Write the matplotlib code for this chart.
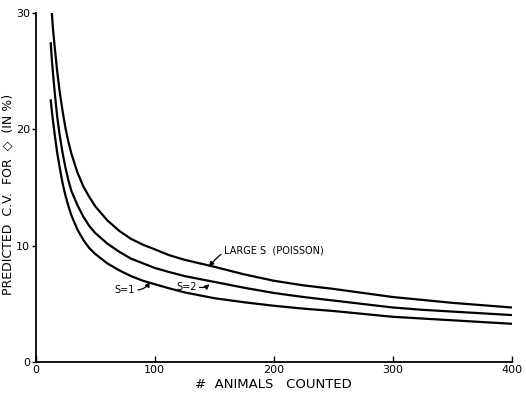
import numpy as np
import matplotlib
matplotlib.use('Agg')
import matplotlib.pyplot as plt

# values
n_large = [13.5, 14.5, 16, 18, 20, 22.5, 25, 27.5, 30, 35, 40, 45, 50, 60, 70, 80, 90, 100,
           112, 125, 150, 175, 200, 225, 250, 275, 300, 325, 350, 375, 400]
cv_large = [30.0, 28.6, 27.0, 25.0, 23.3, 21.6, 20.1, 18.9, 17.9, 16.3, 15.1, 14.2, 13.4, 12.2,
            11.3, 10.6, 10.1, 9.7, 9.2, 8.8, 8.2, 7.55, 7.0, 6.6, 6.3, 5.95, 5.6, 5.35, 5.1, 4.9, 4.7]

n_s2 = [12.6, 13.5, 14.5, 16, 18, 20, 22.5, 25, 27.5, 30, 35, 40, 45, 50, 60, 70, 80, 90, 100,
        112, 125, 150, 175, 200, 225, 250, 275, 300, 325, 350, 375, 400]
cv_s2 = [27.4, 26.0, 24.8, 23.1, 21.1, 19.6, 18.0, 16.7, 15.6, 14.7, 13.5, 12.5, 11.7, 11.1, 10.2,
         9.5, 8.9, 8.5, 8.1, 7.75, 7.4, 6.9, 6.4, 5.95, 5.6, 5.3, 5.0, 4.7, 4.5, 4.35, 4.2, 4.05]

n_s1 = [12.6, 13.5, 14.5, 16, 18, 20, 22.5, 25, 27.5, 30, 35, 40, 45, 50, 60, 70, 80, 90, 100,
        112, 125, 150, 175, 200, 225, 250, 275, 300, 325, 350, 375, 400]
cv_s1 = [22.5, 21.6, 20.7, 19.5, 18.0, 16.8, 15.4, 14.3, 13.4, 12.6, 11.4, 10.5, 9.8, 9.3, 8.5,
         7.9, 7.4, 7.0, 6.7, 6.35, 6.0, 5.5, 5.15, 4.85, 4.6, 4.4, 4.15, 3.9, 3.75, 3.6, 3.45, 3.3]

xticks = [0, 100, 200, 300, 400]
yticks = [0, 10, 20, 30]

fig = plt.figure(figsize=(5.26, 3.98), dpi=100)
ax = fig.add_axes([0.068, 0.090, 0.905, 0.877])

lw = 1.6
ax.plot(n_large, cv_large, color='black', linewidth=lw)
ax.plot(n_s2, cv_s2, color='black', linewidth=lw)
ax.plot(n_s1, cv_s1, color='black', linewidth=lw)

ax.set_xlim(0, 400)
ax.set_ylim(0, 30)
ax.spines['top'].set_visible(False)
ax.spines['right'].set_visible(False)
ax.spines['left'].set_linewidth(1.3)
ax.spines['bottom'].set_linewidth(1.3)

ax.set_xticks(xticks)
ax.set_yticks(yticks)
ax.tick_params(axis='x', direction='in', length=4, width=1, labelsize=8, pad=2)
ax.tick_params(axis='y', direction='out', length=3, width=1, labelsize=8, pad=1)

ax.set_xlabel('#  ANIMALS   COUNTED', fontsize=9.5, labelpad=2)
ax.set_ylabel('PREDICTED  C.V.  FOR  \u25c7  (IN %)', fontsize=9)
ax.yaxis.set_label_coords(-0.045, 0.48)

arrow = dict(arrowstyle='-|>', color='black', linewidth=0.9, mutation_scale=7,
             shrinkA=0, shrinkB=0)

ax.annotate('LARGE S  (POISSON)', xy=(145.6, 8.2), xytext=(158, 9.6),
            fontsize=7, va='center', ha='left',
            arrowprops=dict(arrow, connectionstyle='arc3,rad=0.4'))
ax.annotate('S=2', xy=(146, 6.7), xytext=(118, 6.5),
            fontsize=7, va='center', ha='left',
            arrowprops=dict(arrow, connectionstyle='arc3,rad=0.3', relpos=(1, 0.5)))
ax.annotate('S=1', xy=(95.8, 6.9), xytext=(66.4, 6.2),
            fontsize=7, va='center', ha='left',
            arrowprops=dict(arrow, connectionstyle='arc3,rad=0.3', relpos=(1, 0.5)))

fig.savefig('out.png', dpi=100)
